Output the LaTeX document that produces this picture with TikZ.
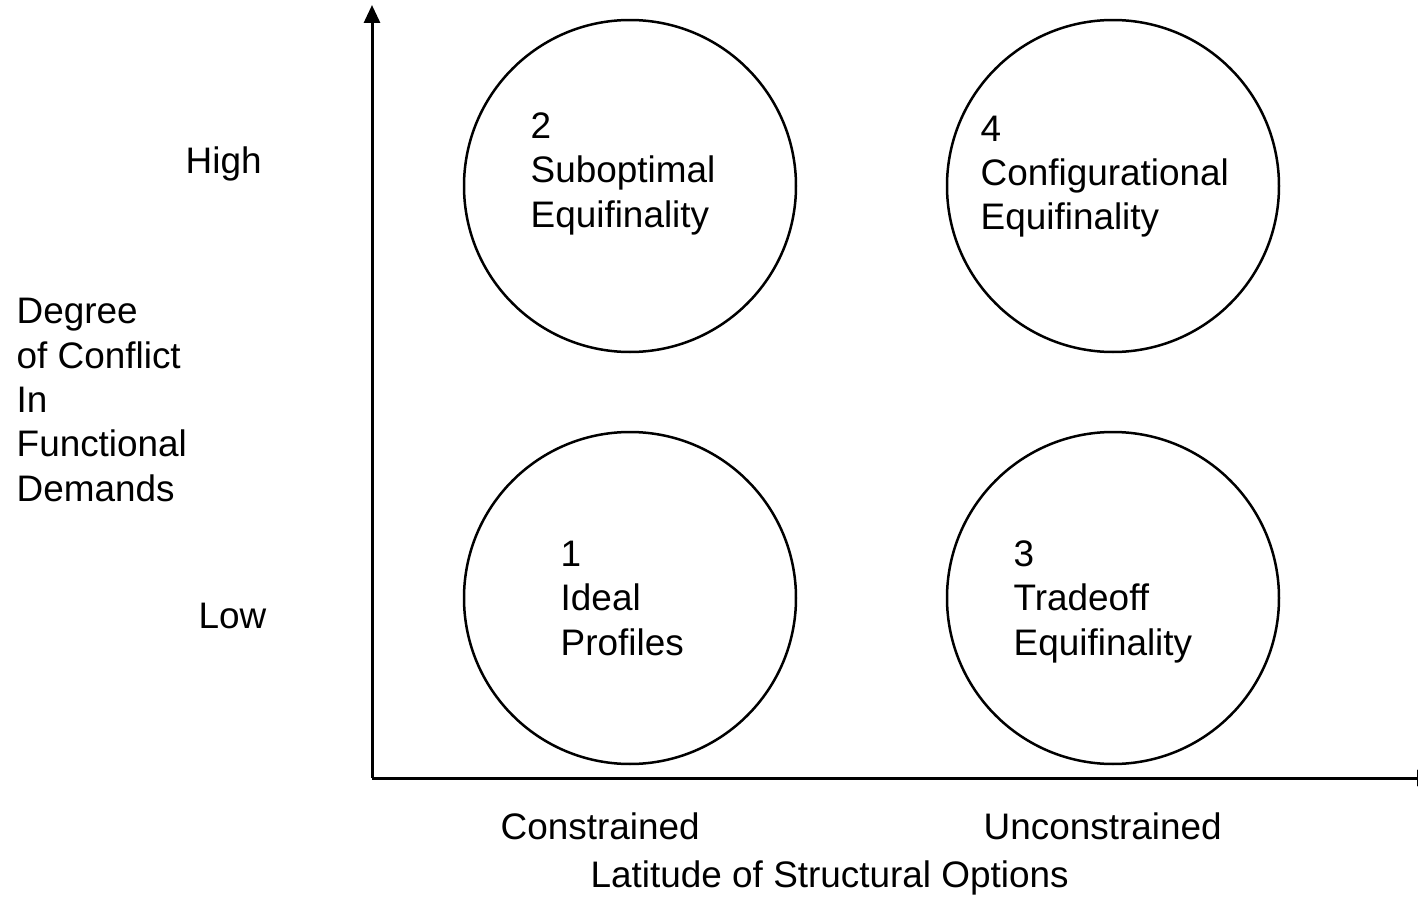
\documentclass[tikz,border=0pt]{standalone}
\usepackage{fontspec}
\setmainfont{Liberation Sans}
\usetikzlibrary{arrows.meta}
\begin{document}
\begin{tikzpicture}[x=0.1mm,y=-0.1mm,>={Triangle[length=1.8mm,width=1.6mm]},line join=round,font=\fontsize{10.5}{12.6}\selectfont,
	lbl/.style={inner sep=0pt,anchor=base west,align=left},
	cell/.style={circle,draw,line width=0.25mm,minimum size=33.2mm,inner sep=0pt}]
			\useasboundingbox (0,0) rectangle (1418,920);
			\coordinate (O) at (372,778);
			\coordinate (Ytip) at (372,5);
			\coordinate (Xtip) at (1435,778);
			\draw[->,line width=0.3mm] (O)--(Ytip);
			\draw[->,line width=0.3mm] (O)--(Xtip);
			\foreach \n/\c in {q1/{630,598},q2/{630,186},q3/{1113,598},q4/{1113,186}}
					\node[cell] (\n) at (\c) {};
			% multi-line labels sit on their last baseline
			\node[lbl] (t2) at (530,227) {2\\Suboptimal\\Equifinality};
			\node[lbl] (t4) at (980,230) {4\\Configurational\\Equifinality};
			\node[lbl] (t1) at (560,655) {1\\Ideal\\Profiles};
			\node[lbl] (t3) at (1013,655) {3\\Tradeoff\\Equifinality};
			\node[lbl] (high) at (185,173) {High};
			\node[lbl] (low) at (198,628) {Low};
			\node[lbl] (ylab) at (16,501) {Degree\\of Conflict\\In\\Functional\\Demands};
			\node[lbl] (cons) at (500,839) {Constrained};
			\node[lbl] (uncons) at (983,839) {Unconstrained};
			\node[lbl] (xlab) at (590,887) {Latitude of Structural Options};
		\end{tikzpicture}
\end{document}
